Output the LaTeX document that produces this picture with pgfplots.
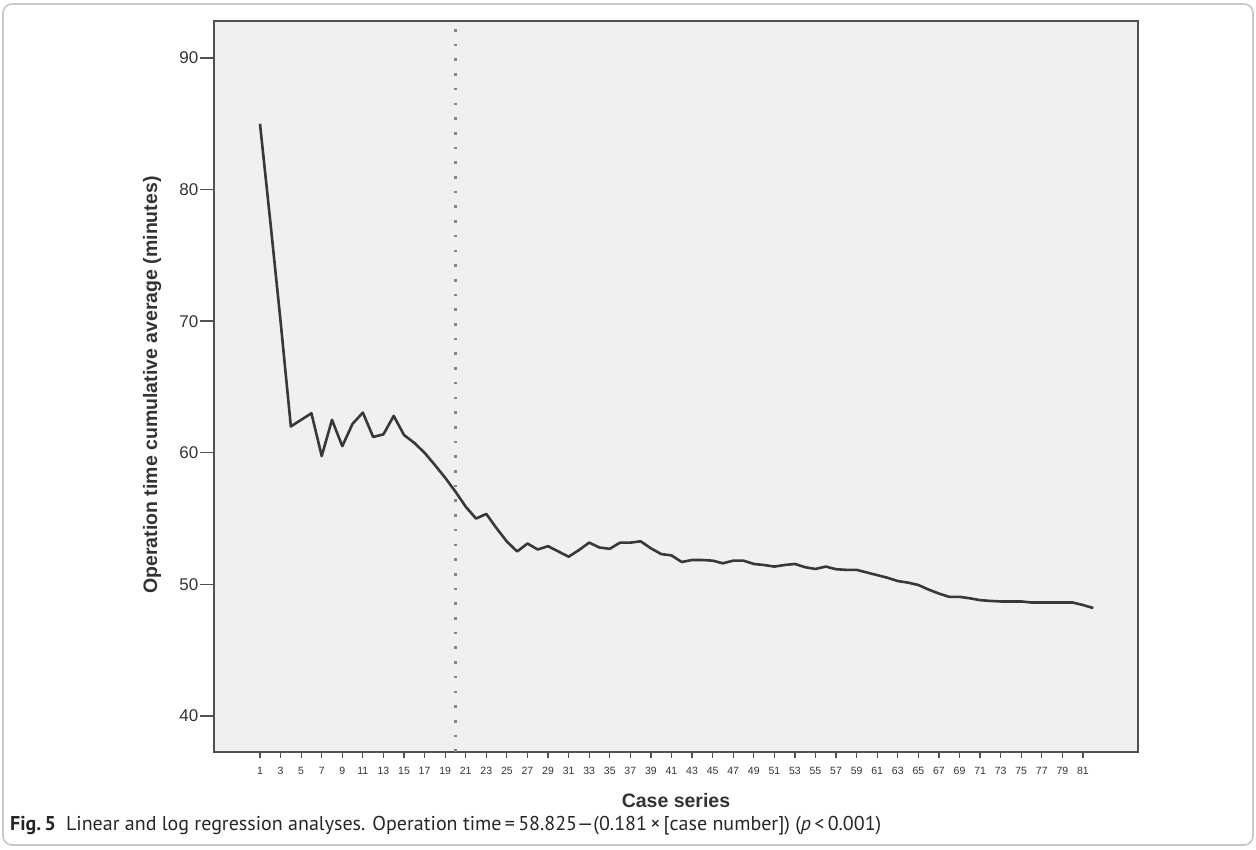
\documentclass[border=0pt]{standalone}
\usepackage{pgfplots}
\pgfplotsset{compat=1.18}
\usepackage{fontspec}
\setmainfont{Liberation Sans}
\newfontfamily\capfont{PT Sans}
\definecolor{plotbg}{HTML}{F0F0F0}
\definecolor{frame}{HTML}{505050}
\definecolor{curve}{HTML}{383838}
\definecolor{txt}{HTML}{333333}
\begin{document}
\begin{tikzpicture}[x=1pt,y=1pt]
\path[use as bounding box] (0,0) rectangle (1256,849);
\draw[color=black!22, line width=1.6pt, rounded corners=9pt] (3,4) rectangle (1253,845);
\begin{axis}[
  at={(214pt,97pt)}, anchor=south west,
  scale only axis, width=924pt, height=731pt,
  xmin=-3.47, xmax=86.35, ymin=37.26, ymax=92.81,
  axis background/.style={fill=plotbg},
  axis line style={draw=frame, line width=2pt},
  tick align=outside,
  xtick={1,3,...,81}, ytick={40,50,...,90},
  xtick pos=bottom, ytick pos=left,
  major tick length=14pt,
  xtick style={draw=frame, line width=1.2pt, /pgfplots/major tick length=6pt},
  ytick style={draw=frame, line width=1.4pt},
  xticklabel style={font=\fontsize{10.5}{12}\selectfont, text=txt, inner sep=1pt},
  yticklabel style={font=\fontsize{17}{19}\selectfont, text=txt, inner sep=1.5pt},
  /pgf/number format/assume math mode=true,
  clip=false,
]
\addplot[color=black!48, line width=3pt, dash pattern=on 2.6pt off 12.1pt] coordinates {(20,37.26) (20,92.81)};
\addplot[color=curve, line width=2.6pt, line join=round] table {
x y
1 85.0
2 77.6
3 70.0
4 62.0
5 62.5
6 63.0
7 59.75
8 62.5
9 60.5
10 62.2
11 63.05
12 61.2
13 61.4
14 62.8
15 61.35
16 60.75
17 60.0
18 59.07
19 58.1
20 57.05
21 55.9
22 55.0
23 55.35
24 54.26
25 53.25
26 52.5
27 53.1
28 52.65
29 52.9
30 52.5
31 52.1
32 52.6
33 53.17
34 52.8
35 52.7
36 53.17
37 53.17
38 53.27
39 52.74
40 52.3
41 52.2
42 51.7
43 51.85
44 51.85
45 51.8
46 51.6
47 51.8
48 51.8
49 51.55
50 51.47
51 51.35
52 51.47
53 51.55
54 51.3
55 51.17
56 51.35
57 51.15
58 51.1
59 51.1
60 50.9
61 50.7
62 50.5
63 50.25
64 50.13
65 49.95
66 49.6
67 49.3
68 49.05
69 49.05
70 48.94
71 48.8
72 48.74
73 48.7
74 48.7
75 48.7
76 48.62
77 48.62
78 48.62
79 48.62
80 48.62
81 48.43
82 48.2
};
\end{axis}
\node[font=\fontsize{19.5}{22}\selectfont\bfseries, text=txt] at (676,48) {Case series};
\node[font=\fontsize{19.5}{22}\selectfont\bfseries, text=txt, rotate=90] at (152,464) {Operation time cumulative average (minutes)};
\node[anchor=west, font=\capfont\fontsize{20}{22}\selectfont, text=black!85, inner sep=0pt] at (10,23) {\textbf{Fig.\,5}\hspace{0.5em}Linear and log regression analyses. Operation time\,=\,58.825—(0.181\,×\,[case number]) (\textit{p}\,<\,0.001)};
\end{tikzpicture}
\end{document}
